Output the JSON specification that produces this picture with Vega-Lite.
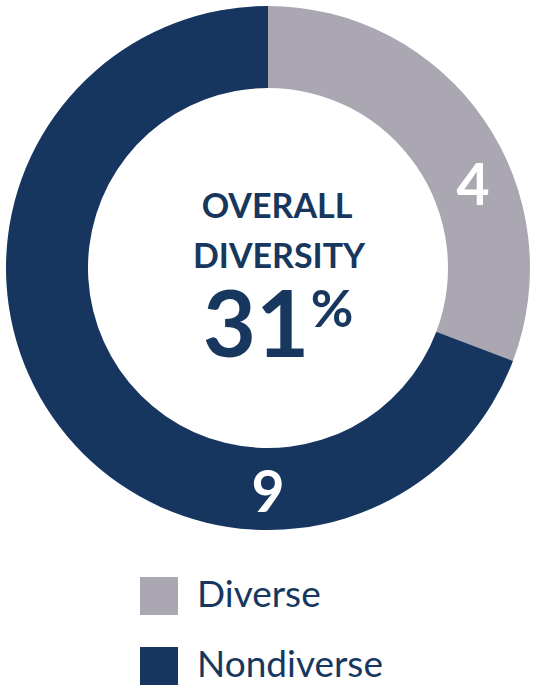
{
  "$schema": "https://vega.github.io/schema/vega-lite/v6.json",
  "width": 536,
  "height": 536,
  "padding": 0,
  "background": "white",
  "config": {"view": {"stroke": null}, "font": "Lato"},
  "data": {"values": [
    {"category": "Diverse", "count": 4},
    {"category": "Nondiverse", "count": 9}
  ]},
  "layer": [
    {
      "mark": {"type": "arc", "outerRadius": 262, "innerRadius": 180},
      "encoding": {
        "theta": {"field": "count", "type": "quantitative", "stack": true},
        "order": {"field": "category", "sort": "ascending"},
        "color": {
          "field": "category", "type": "nominal",
          "scale": {"domain": ["Diverse", "Nondiverse"], "range": ["#AAA7B2", "#163660"]},
          "legend": {
            "title": null, "orient": "none", "legendX": 140, "legendY": 577,
            "direction": "vertical", "symbolType": "square", "symbolSize": 1444,
            "symbolStrokeWidth": 0, "symbolOpacity": 1,
            "labelFont": "Lato", "labelFontSize": 37, "labelColor": "#17375E",
            "labelOffset": 19, "rowPadding": 32, "labelLimit": 400
          }
        }
      }
    },
    {
      "mark": {"type": "text", "radius": 220, "thetaOffset": 0.232, "font": "Lato", "fontWeight": "bold", "fontSize": 57, "color": "white", "baseline": "middle", "align": "center"},
      "encoding": {
        "theta": {"field": "count", "type": "quantitative", "stack": true},
        "order": {"field": "category", "sort": "ascending"},
        "text": {"condition": {"test": "datum.category === 'Diverse'", "field": "count", "type": "quantitative"}, "value": ""}
      }
    },
    {
      "mark": {"type": "text", "radius": 227, "thetaOffset": -0.967, "font": "Lato", "fontWeight": "bold", "fontSize": 57, "color": "white", "baseline": "middle", "align": "center"},
      "encoding": {
        "theta": {"field": "count", "type": "quantitative", "stack": true},
        "order": {"field": "category", "sort": "ascending"},
        "text": {"condition": {"test": "datum.category === 'Nondiverse'", "field": "count", "type": "quantitative"}, "value": ""}
      }
    },
    {
      "data": {"values": [{"t": "OVERALL"}]},
      "mark": {"type": "text", "font": "Lato", "fontWeight": "bold", "fontSize": 34, "color": "#17375E", "baseline": "alphabetic", "align": "center", "dx": 9, "dy": -50},
      "encoding": {"text": {"field": "t"}}
    },
    {
      "data": {"values": [{"t": "DIVERSITY"}]},
      "mark": {"type": "text", "font": "Lato", "fontWeight": "bold", "fontSize": 34, "color": "#17375E", "baseline": "alphabetic", "align": "center", "dx": 11, "dy": 0},
      "encoding": {"text": {"field": "t"}}
    },
    {
      "data": {"values": [{"t": "31"}]},
      "mark": {"type": "text", "font": "Lato", "fontWeight": "bold", "fontSize": 92, "color": "#17375E", "baseline": "alphabetic", "align": "center", "dx": -12, "dy": 89},
      "encoding": {"text": {"field": "t"}}
    },
    {
      "data": {"values": [{"t": "%"}]},
      "mark": {"type": "text", "font": "Lato", "fontWeight": "bold", "fontSize": 52, "color": "#17375E", "baseline": "alphabetic", "align": "center", "dx": 64, "dy": 59},
      "encoding": {"text": {"field": "t"}}
    }
  ]
}
